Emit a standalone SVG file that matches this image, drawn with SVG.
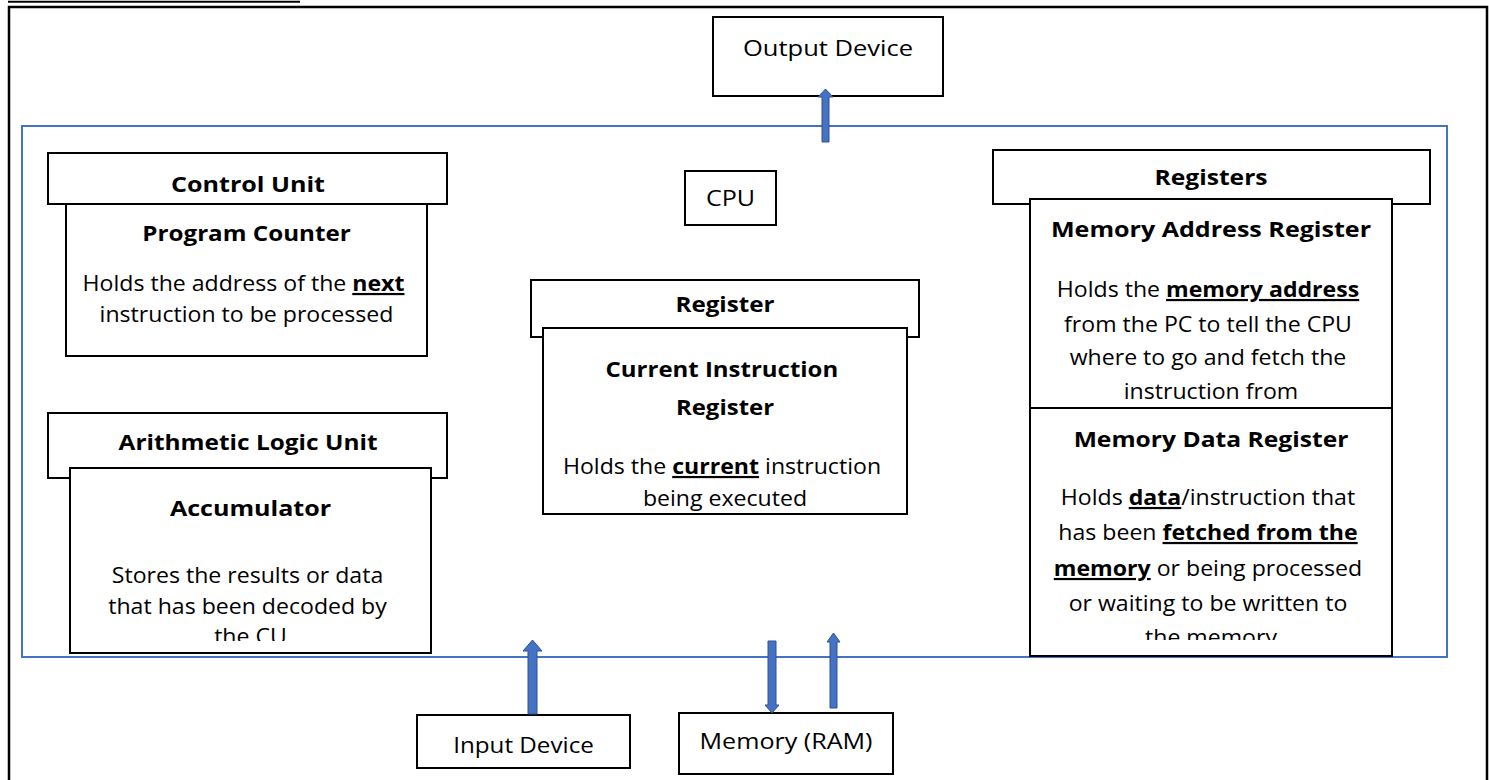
<svg xmlns="http://www.w3.org/2000/svg" width="1489" height="780" viewBox="0 0 1489 780">
  <defs>
    <style>
      .box { fill: #ffffff; stroke: #000000; stroke-width: 2; }
      .frame { fill: none; stroke: #000000; stroke-width: 2.5; }
      .cpu { fill: none; stroke: #4472C4; stroke-width: 2; }
      .arrow { fill: #4472C4; stroke: #2F528F; stroke-width: 1; }
      .t { font-family: "Open Sans", "Liberation Sans", sans-serif; font-size: 22px; fill: #000000; text-anchor: middle; }
      .b { font-weight: 700; }
      .u { text-decoration: underline; }
    </style>
    <clipPath id="clip-acc"><rect x="70" y="468" width="361" height="173"/></clipPath>
    <clipPath id="clip-mdr"><rect x="1030" y="408" width="362" height="232"/></clipPath>
  </defs>

  <rect width="1489" height="780" fill="#ffffff"/>

  <!-- page frame -->
  <line x1="8" y1="1.8" x2="300" y2="1.8" stroke="#000" stroke-width="2"/>
  <path class="frame" d="M9,782 V7 H1487 V782"/>

  <!-- processor outline -->
  <rect id="cpu-frame" class="cpu" x="22" y="126" width="1425" height="531"/>

  <g id="output-device">
    <rect class="box" x="713" y="17" width="230" height="79"/>
    <text class="t" transform="translate(828 0) scale(1.16 1)" x="0" y="56">Output Device</text>
  </g>

  <g id="cpu-label">
    <rect class="box" x="685" y="171" width="91" height="54" stroke-width="1.5"/>
    <text class="t" transform="translate(730.5 0) scale(1.14 1)" x="0" y="206">CPU</text>
  </g>

  <g id="control-unit">
    <rect class="box" x="48" y="153" width="399" height="51"/>
    <text class="t b" transform="translate(248 0) scale(1.14 1)" x="0" y="192">Control Unit</text>
  </g>
  <g id="program-counter">
    <rect class="box" x="66" y="204" width="361" height="152"/>
    <text class="t b" transform="translate(246.5 0) scale(1.1 1)" x="0" y="241">Program Counter</text>
    <text class="t" transform="translate(246.5 0) scale(1.05 1)">
      <tspan x="0" y="291">Holds the address of the <tspan class="b u">next</tspan></tspan>
      <tspan x="0" y="322">instruction to be processed</tspan>
    </text>
  </g>

  <g id="alu">
    <rect class="box" x="48" y="413" width="399" height="65"/>
    <text class="t b" transform="translate(248 0) scale(1.11 1)" x="0" y="450">Arithmetic Logic Unit</text>
  </g>
  <g id="accumulator">
    <rect class="box" x="70" y="468" width="361" height="185"/>
    <text class="t b" transform="translate(250.5 0) scale(1.14 1)" x="0" y="516">Accumulator</text>
    <g clip-path="url(#clip-acc)">
      <text class="t" transform="translate(250.5 0) scale(1.05 1)">
        <tspan x="0" y="583">Stores the results or data</tspan>
        <tspan x="0" y="614">that has been decoded by</tspan>
        <tspan x="0" y="644">the CU</tspan>
      </text>
    </g>
  </g>

  <g id="register">
    <rect class="box" x="531" y="280" width="388" height="57"/>
    <text class="t b" transform="translate(725 0) scale(1.1 1)" x="0" y="312">Register</text>
  </g>
  <g id="current-instruction-register">
    <rect class="box" x="543" y="328" width="364" height="186"/>
    <text class="t b" transform="translate(725 0) scale(1.09 1)">
      <tspan x="0" y="377">Current Instruction</tspan>
      <tspan x="0" y="415">Register</tspan>
    </text>
    <text class="t" transform="translate(725 0) scale(1.05 1)">
      <tspan x="0" y="474">Holds the <tspan class="b u">current</tspan> instruction</tspan>
      <tspan x="0" y="506">being executed</tspan>
    </text>
  </g>

  <g id="registers">
    <rect class="box" x="993" y="150" width="437" height="54"/>
    <text class="t b" transform="translate(1211 0) scale(1.12 1)" x="0" y="185">Registers</text>
  </g>
  <g id="memory-address-register">
    <rect class="box" x="1030" y="199" width="362" height="209"/>
    <text class="t b" transform="translate(1211 0) scale(1.14 1)" x="0" y="237">Memory Address Register</text>
    <text class="t" transform="translate(1211 0) scale(1.05 1)">
      <tspan x="0" y="297">Holds the <tspan class="b u">memory address</tspan></tspan>
      <tspan x="0" y="332">from the PC to tell the CPU</tspan>
      <tspan x="0" y="365">where to go and fetch the</tspan>
      <tspan x="0" y="399">instruction from</tspan>
    </text>
  </g>
  <g id="memory-data-register">
    <rect class="box" x="1030" y="408" width="362" height="248"/>
    <text class="t b" transform="translate(1211 0) scale(1.12 1)" x="0" y="447">Memory Data Register</text>
    <g clip-path="url(#clip-mdr)">
      <text class="t" transform="translate(1211 0) scale(1.05 1)">
        <tspan x="0" y="505">Holds <tspan class="b u">data</tspan>/instruction that</tspan>
        <tspan x="0" y="540">has been <tspan class="b u">fetched from the</tspan></tspan>
        <tspan x="0" y="576"><tspan class="b u">memory</tspan> or being processed</tspan>
        <tspan x="0" y="611">or waiting to be written to</tspan>
        <tspan x="0" y="645">the memory</tspan>
      </text>
    </g>
  </g>

  <g id="input-device">
    <rect class="box" x="417" y="715" width="213" height="53"/>
    <text class="t" transform="translate(523.5 0) scale(1.1 1)" x="0" y="753">Input Device</text>
  </g>
  <g id="memory-ram">
    <rect class="box" x="679" y="713" width="214" height="61"/>
    <text class="t" transform="translate(786 0) scale(1.14 1)" x="0" y="749">Memory (RAM)</text>
  </g>

  <!-- block arrows between the processor and the devices -->
  <g id="connectors">
    <path class="arrow" d="M822,142 V97 H818 L825.5,89 L833,97 H829 V142 Z"/>
    <path class="arrow" d="M528,714 V651 H523 L532.5,640 L542,651 H537 V714 Z"/>
    <path class="arrow" d="M768,641 V705 H765 L772,713 L779,705 H776 V641 Z"/>
    <path class="arrow" d="M830,708 V642 H827 L833.5,633 L840,642 H837 V708 Z"/>
  </g>
</svg>
